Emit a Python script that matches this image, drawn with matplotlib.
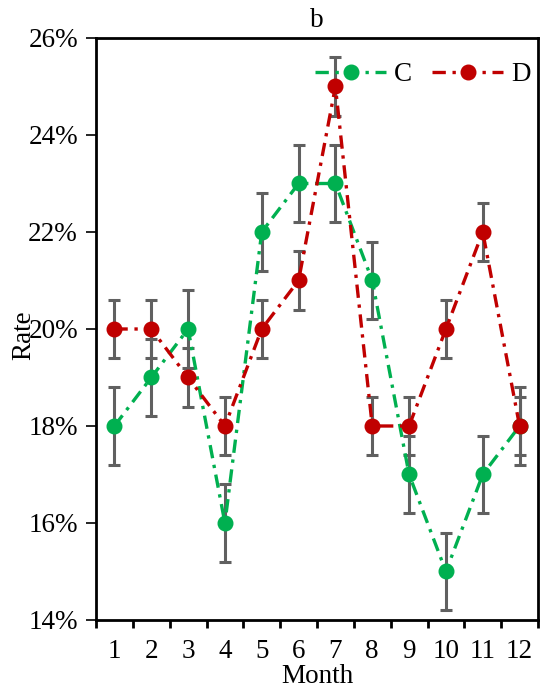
import matplotlib
matplotlib.use("Agg")
import matplotlib.pyplot as plt
import numpy as np

months = [1, 2, 3, 4, 5, 6, 7, 8, 9, 10, 11, 12]
month_labels = ["1", "2", "3", "4", "5", "6", "7", "8", "9", "10", "11", "12"]
c_values = [18, 19, 20, 16, 22, 23, 23, 21, 17, 15, 17, 18]
c_errors = [0.8, 0.8, 0.8, 0.8, 0.8, 0.8, 0.8, 0.8, 0.8, 0.8, 0.8, 0.8]
d_values = [20, 20, 19, 18, 20, 21, 25, 18, 18, 20, 22, 18]
d_errors = [0.6, 0.6, 0.6, 0.6, 0.6, 0.6, 0.6, 0.6, 0.6, 0.6, 0.6, 0.6]
y_ticks = [14, 16, 18, 20, 22, 24, 26]
y_tick_labels = ["14%", "16%", "18%", "20%", "22%", "24%", "26%"]

plt.rcParams['font.family'] = ['Liberation Serif', 'DejaVu Serif']

fig = plt.figure(figsize=(5.41, 6.91), dpi=100)
ax = fig.add_axes([96/541, 1-620/691, 442/541, 582/691])

green = "#00B050"
red = "#C00000"
gray = "#606060"

for vals, errs, col, lab in [(c_values, c_errors, green, "C"), (d_values, d_errors, red, "D")]:
    ax.errorbar(months, vals, yerr=errs, fmt='none', ecolor=gray, elinewidth=2.2,
                capsize=4.5, capthick=2.2, zorder=2)
    ax.plot(months, vals, color=col, linestyle=(0, (4, 2, 1, 2)), linewidth=2.4,
            marker='o', markersize=10.5, label=lab, zorder=3)

fs = 19.5
ax.set_xlim(0.5, 12.5)
ax.set_ylim(14, 26)
ax.set_xticks(months)
ax.set_xticklabels(month_labels)
ax.set_xticks(np.arange(0.5, 13, 1), minor=True)
ax.tick_params(axis='x', which='major', length=0, pad=14, labelsize=fs)
ax.tick_params(axis='x', which='minor', length=6, width=2, direction='out')
ax.set_yticks(y_ticks)
ax.set_yticklabels(y_tick_labels)
ax.tick_params(axis='y', which='major', length=7, width=1.2, direction='out', pad=6, labelsize=fs)
for s in ax.spines.values():
    s.set_linewidth(2)

ax.set_title("b", fontsize=fs, pad=8)
ax.set_xlabel("Month", fontsize=fs)
ax.xaxis.set_label_coords(0.5, -0.076)
ax.set_ylabel("Rate", fontsize=fs)
ax.yaxis.set_label_coords(-0.135, 0.49)

ax.legend(loc='upper right', bbox_to_anchor=(1.038, 1.0), ncol=2, frameon=False,
          fontsize=fs, handlelength=2.6, columnspacing=0.75, handletextpad=0.3)

fig.savefig("out.png", dpi=100)
